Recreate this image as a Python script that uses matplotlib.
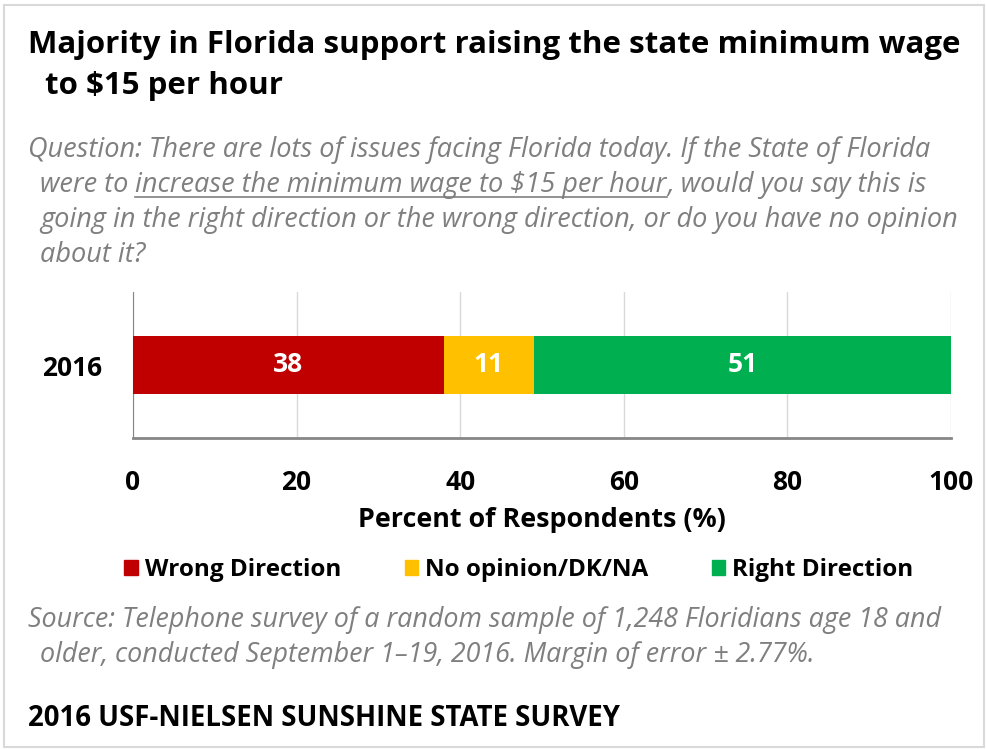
import matplotlib
matplotlib.use('Agg')
import matplotlib.pyplot as plt
from matplotlib.lines import Line2D
from matplotlib.patches import Rectangle, Patch

# Data
years = ['2016']
wrong = [38]
no_opinion = [11]
right = [51]
series_names = ['Wrong Direction', 'No opinion/DK/NA', 'Right Direction']
colors = ['#C00000', '#FFC000', '#00B050']
xticks = [0, 20, 40, 60, 80, 100]

plt.rcParams['font.family'] = ['Open Sans', 'DejaVu Sans']

W, H = 987, 749
fig = plt.figure(figsize=(W / 100, H / 100), dpi=100)
renderer = fig.canvas.get_renderer()
gray = '#7f7f7f'


def px(x, y):
    return x / W, 1 - y / H


def fit(t, width):
    # scale font so the text spans the given pixel width
    w = t.get_window_extent(renderer).width
    t.set_fontsize(t.get_fontsize() * width / w)
    return t.get_fontsize()


# Outer frame
fig.patches.append(Rectangle((4 / W, 2 / H), 980 / W, 742 / H, transform=fig.transFigure,
                             fill=False, edgecolor='#d9d9d9', linewidth=1.5))

# Title
t = fig.text(*px(28, 45), 'Majority in Florida support raising the state minimum wage',
             fontsize=20, fontweight='bold', va='center', ha='left')
ts = fit(t, 930)
fig.text(*px(45, 86), 'to $15 per hour', fontsize=ts, fontweight='bold', va='center', ha='left')

# Question text
qkw = dict(style='italic', color=gray, va='center', ha='left')
t = fig.text(*px(28, 150), 'Question: There are lots of issues facing Florida today. If the State of Florida',
             fontsize=16, **qkw)
qs = fit(t, 905)
t1 = fig.text(*px(40, 185), 'were to ', fontsize=qs, **qkw)
x1 = t1.get_window_extent(renderer).x1
t2 = fig.text(x1 / W, 1 - 185 / H, 'increase the minimum wage to $15 per hour', fontsize=qs, **qkw)
bb = t2.get_window_extent(renderer)
fig.text(bb.x1 / W, 1 - 185 / H, ', would you say this is', fontsize=qs, **qkw)
fig.add_artist(Line2D([bb.x0 / W, bb.x1 / W], [1 - 197 / H, 1 - 197 / H],
                      transform=fig.transFigure, color=gray, linewidth=1.2))
fig.text(*px(40, 220), 'going in the right direction or the wrong direction, or do you have no opinion',
         fontsize=qs, **qkw)
fig.text(*px(40, 255), 'about it?', fontsize=qs, **qkw)

# Chart
ax = fig.add_axes([133 / W, 1 - 438 / H, (951 - 133) / W, 146 / H])
left = [0] * len(years)
for vals, name, c in zip([wrong, no_opinion, right], series_names, colors):
    bars = ax.barh(years, vals, left=left, height=0.4, color=c, label=name, zorder=3)
    ax.bar_label(bars, labels=[str(v) for v in vals], label_type='center',
                 color='white', fontsize=19, fontweight='bold')
    left = [l + v for l, v in zip(left, vals)]

ax.set_xlim(0, 100)
ax.set_ylim(-0.5, 0.5)
ax.set_xticks(xticks)
ax.grid(axis='x', color='#d9d9d9', linewidth=1, zorder=0)
ax.tick_params(axis='x', length=0, pad=22, labelsize=19)
ax.tick_params(axis='y', length=0, pad=22, labelsize=19)
for lab in ax.get_xticklabels() + ax.get_yticklabels():
    lab.set_fontweight('bold')
for s in ['top', 'right']:
    ax.spines[s].set_visible(False)
ax.spines['left'].set_color('#868686')
ax.spines['bottom'].set_color('#868686')
ax.spines['bottom'].set_linewidth(2)
xl = ax.set_xlabel('Percent of Respondents (%)', fontsize=17, fontweight='bold', labelpad=8)
fit(xl, 368)

handles = [Patch(color=c) for c in colors]
fig.legend(handles, series_names, loc='center', bbox_to_anchor=px(519, 570), ncol=3,
           frameon=False, handlelength=0.55, handleheight=0.55, handletextpad=0.3,
           columnspacing=2.6, prop={'size': 17.5, 'weight': 'bold'})

# Source
skw = dict(style='italic', color=gray, va='center', ha='left')
t = fig.text(*px(28, 620), 'Source: Telephone survey of a random sample of 1,248 Floridians age 18 and',
             fontsize=16, **skw)
ss = fit(t, 917)
fig.text(*px(40, 655), 'older, conducted September 1\u201319, 2016. Margin of error \u00b1 2.77%.',
         fontsize=ss, **skw)

t = fig.text(*px(28, 718), '2016 USF-NIELSEN SUNSHINE STATE SURVEY', fontsize=17, fontweight='bold',
             va='center', ha='left')
fit(t, 592)

fig.savefig('out.png', dpi=100)
